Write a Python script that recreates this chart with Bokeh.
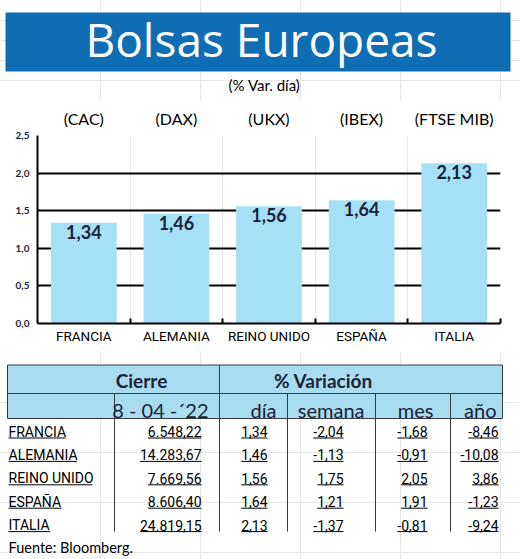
import numpy as np
from bokeh.plotting import figure
from bokeh.layouts import column
from bokeh.models import Range1d, LinearAxis, FixedTicker, CustomJSTickFormatter, Grid
from bokeh.core.properties import value
from bokeh.embed import file_html
from bokeh.resources import INLINE

# ---------------- data ----------------
countries = ["FRANCIA", "ALEMANIA", "REINO UNIDO", "ESPAÑA", "ITALIA"]
indices = ["(CAC)", "(DAX)", "(UKX)", "(IBEX)", "(FTSE MIB)"]
var_dia = [1.34, 1.46, 1.56, 1.64, 2.13]
cierre = [6548.22, 14283.67, 7669.56, 8606.40, 24819.15]
var_semana = [-2.04, -1.13, 1.75, 1.21, -1.37]
var_mes = [-1.68, -0.91, 2.05, 1.91, -0.81]
var_anio = [-8.46, -10.08, 3.86, -1.23, -9.24]
y_ticks = [0.0, 0.5, 1.0, 1.5, 2.0, 2.5]

title_text = "Bolsas Europeas"
subtitle_text = "(% Var. día)"
table_head1 = ["Cierre", "% Variación"]
table_head2 = ["8 - 04 -´22", "día", "semana", "mes", "año"]
source_text = "Fuente: Bloomberg."

# ---------------- style ----------------
W = 520
BLUE = "#0f6db4"
BAR = "#a6e0f6"
HEAD = "#a9dcf1"
DARK = "#1b2236"
COND = "Roboto"
SANS = "Lato"


def es(v, d=2):
    s = f"{v:,.{d}f}"
    return s.replace(",", "X").replace(".", ",").replace("X", ".")


# Roboto advance widths (em) for underline lengths
_wd = {c: 0.5615 for c in "0123456789"}
_wd.update({".": 0.263, ",": 0.196, "-": 0.276, " ": 0.243, "A": 0.652, "E": 0.568,
            "F": 0.553, "R": 0.615, "N": 0.697, "Ñ": 0.697, "C": 0.637, "I": 0.272,
            "L": 0.538, "M": 0.853, "O": 0.676, "U": 0.633, "D": 0.641, "S": 0.594,
            "P": 0.631, "T": 0.596})


def text_w(s, size):
    return sum(_wd.get(c, 0.6) for c in s) * size


def bare(fig):
    fig.outline_line_color = None
    fig.background_fill_color = "white"
    fig.border_fill_color = "white"
    fig.frame_align = False
    return fig


# ---------------- title block ----------------
TH = 100
pt = bare(figure(width=W, height=TH, x_range=Range1d(0, W), y_range=Range1d(TH, 0),
                 x_axis_location=None, y_axis_location=None, min_border=0,
                 output_backend="svg", toolbar_location=None))
pt.quad(left=[5], right=[510], top=[12], bottom=[71], fill_color=BLUE, line_color=None)
pt.text(x=[261], y=[38], text=[title_text], text_align="center", text_baseline="middle",
        text_font=value("Open Sans"), text_font_size="46px", text_color="white")
pt.text(x=[264], y=[84], text=[subtitle_text], text_align="center", text_baseline="middle",
        text_font=value(SANS), text_font_size="15px", text_color="black")

# ---------------- bar chart ----------------
CH = 252
n = len(countries)
centers = [i + 0.5 for i in range(n)]
bounds = [float(i) for i in range(1, n + 1)]

pc = bare(figure(width=W, height=CH, x_range=Range1d(0, n), y_range=Range1d(0, y_ticks[-1]),
                 x_axis_location=None, y_axis_location=None,
                 min_border_left=37, min_border_right=20, min_border_top=35, min_border_bottom=29,
                 output_backend="svg", toolbar_location=None))

pc.add_layout(Grid(dimension=1, ticker=FixedTicker(ticks=y_ticks[1:]), grid_line_color="black",
                   grid_line_width=2))

yax = LinearAxis(ticker=FixedTicker(ticks=y_ticks),
                 formatter=CustomJSTickFormatter(code="return tick.toFixed(1).replace('.', ',')"),
                 axis_line_color="black", axis_line_width=2,
                 major_tick_line_color=None, minor_tick_line_color=None,
                 major_tick_out=0, minor_tick_out=0,
                 major_label_text_font=SANS, major_label_text_font_style="bold",
                 major_label_text_font_size="10px", major_label_text_color=DARK,
                 major_label_standoff=8)
pc.add_layout(yax, "left")

xax = LinearAxis(ticker=FixedTicker(ticks=centers, minor_ticks=bounds),
                 major_label_overrides={c: name for c, name in zip(centers, countries)},
                 axis_line_color="black", axis_line_width=2,
                 major_tick_line_color=None, major_tick_out=0, major_tick_in=0,
                 minor_tick_line_color="black", minor_tick_line_width=2,
                 minor_tick_in=5, minor_tick_out=0,
                 major_label_text_font=COND, major_label_text_font_size="13.5px",
                 major_label_text_color="black", major_label_standoff=4)
pc.add_layout(xax, "below")

aax = LinearAxis(ticker=FixedTicker(ticks=centers),
                 major_label_overrides={c: name for c, name in zip(centers, indices)},
                 axis_line_color=None, major_tick_line_color=None, minor_tick_line_color=None,
                 major_tick_out=0, major_tick_in=0, minor_tick_out=0, minor_tick_in=0,
                 major_label_text_font=SANS, major_label_text_font_size="16px",
                 major_label_text_color="black", major_label_standoff=8)
pc.add_layout(aax, "above")

pc.vbar(x=centers, top=var_dia, width=0.71, fill_color=BAR, line_color=None)
pc.text(x=centers, y=var_dia, text=[es(v) for v in var_dia], text_align="center",
        text_baseline="top", y_offset=2, text_font=value(SANS), text_font_style="bold",
        text_font_size="18px", text_color=DARK)

# ---------------- table ----------------
TBH = 559 - TH - CH
ptb = bare(figure(width=W, height=TBH, x_range=Range1d(0, W), y_range=Range1d(TBH, 0),
                  x_axis_location=None, y_axis_location=None, min_border=0,
                  output_backend="svg", toolbar_location=None))

tab_left, tab_right = 7, 502
head_top, head_mid, head_bot = 12.5, 41, 66
col_lines = [114, 219, 287, 375, 450]
row_mid = [79 + 23.4 * i for i in range(len(countries))]
FS = 14
under_dy = 6.5
tab_bottom = row_mid[-1] + under_dy

ptb.quad(left=[tab_left], right=[tab_right], top=[head_top], bottom=[head_bot], fill_color=HEAD,
         line_color="#3a3a3a", line_width=1)
ptb.segment(x0=[tab_left], x1=[tab_right], y0=[head_mid], y1=[head_mid], line_color="#3a3a3a",
            line_width=1)
ptb.segment(x0=[col_lines[1]], x1=[col_lines[1]], y0=[head_top], y1=[tab_bottom],
            line_color="#3a3a3a", line_width=1)
other = [c for i, c in enumerate(col_lines) if i != 1]
ptb.segment(x0=other, x1=other, y0=[head_mid] * len(other), y1=[tab_bottom] * len(other),
            line_color="#3a3a3a", line_width=1)

# header texts
ptb.text(x=[141, 323], y=[28, 28], text=table_head1, text_align="center", text_baseline="middle",
         text_font=value(SANS), text_font_style="bold", text_font_size="19px", text_color=DARK)
h2_x = [208, 276, 364, 433, 496]
ptb.text(x=h2_x, y=[57] * len(h2_x), text=table_head2, text_align="right", text_baseline="middle",
         text_font=value(SANS), text_font_size="20px", text_color=DARK)

# body
name_x = 8
num_cols = [cierre, var_dia, var_semana, var_mes, var_anio]
num_x = [201, 267, 343, 427, 498]

ux0, ux1, uy = [], [], []
ptb.text(x=[name_x] * n, y=row_mid, text=countries, text_align="left", text_baseline="middle",
         text_font=value(COND), text_font_size=f"{FS}px", text_color="black")
for name, ym in zip(countries, row_mid):
    ux0.append(name_x); ux1.append(name_x + text_w(name, FS)); uy.append(ym + under_dy)

for vals, xr in zip(num_cols, num_x):
    labels = [es(v) for v in vals]
    ptb.text(x=[xr] * n, y=row_mid, text=labels, text_align="right", text_baseline="middle",
             text_font=value(COND), text_font_size=f"{FS}px", text_color="black")
    for lab, ym in zip(labels, row_mid):
        ux0.append(xr - text_w(lab, FS)); ux1.append(xr); uy.append(ym + under_dy)

ptb.segment(x0=ux0, x1=ux1, y0=uy, y1=uy, line_color="black", line_width=1)

ptb.text(x=[8], y=[195], text=[source_text], text_align="left", text_baseline="middle",
         text_font=value(SANS), text_font_size="14.5px", text_color="black")

layout = column(pt, pc, ptb, spacing=0)
open("out.html", "w").write(file_html(layout, INLINE))
